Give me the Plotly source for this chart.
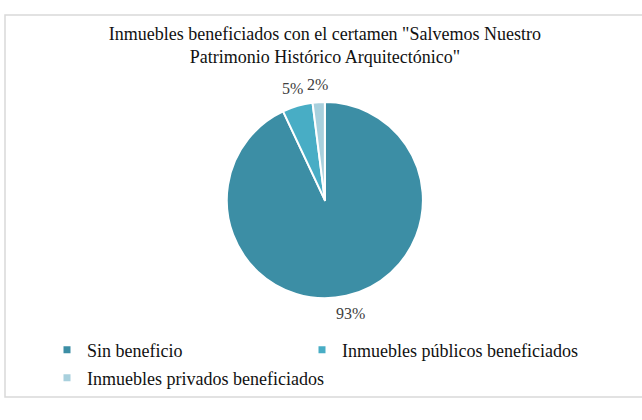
import math
import plotly.graph_objects as go

labels = ["Sin beneficio", "Inmuebles públicos beneficiados", "Inmuebles privados beneficiados"]
values = [93, 5, 2]
colors = ["#3C8EA5", "#48ADC5", "#A8D0DD"]
title_text = 'Inmuebles beneficiados con el certamen "Salvemos Nuestro<br>Patrimonio Histórico Arquitectónico"'

serif = "Times New Roman, Liberation Serif, serif"
W, H = 642, 420
dom_x = [0.2, 0.812]
dom_y = [0.29, 0.757]

fig = go.Figure()
fig.add_trace(go.Pie(
    labels=labels, values=values, sort=False, direction="clockwise", rotation=0,
    marker=dict(colors=colors, line=dict(color="white", width=2)),
    textinfo="none", hoverinfo="label+percent",
    domain=dict(x=dom_x, y=dom_y),
    showlegend=False,
))

# legend entries (one legend per entry so they can sit in a 2-column grid)
legend_names = ["legend", "legend2", "legend3"]
legend_pos = [(47, 350), (302, 350), (47, 378)]
for lab, col, lg in zip(labels, colors, legend_names):
    fig.add_trace(go.Scatter(
        x=[None], y=[None], mode="markers", name=lab, legend=lg,
        marker=dict(symbol="square", size=7, color=col), showlegend=True,
    ))

legend_layout = {}
for lg, (lx, ly) in zip(legend_names, legend_pos):
    legend_layout[lg] = dict(x=lx / W, y=1 - ly / H, xanchor="left", yanchor="middle",
                             bgcolor="rgba(0,0,0,0)",
                             font=dict(family=serif, size=18, color="#111111"))

# percentage labels placed outside each slice at its mid-angle
total = sum(values)
cx = (dom_x[0] + dom_x[1]) / 2 * W
cy = (dom_y[0] + dom_y[1]) / 2 * H
R = (dom_y[1] - dom_y[0]) * H / 2
annotations = []
cum = 0
for v in values:
    mid = (cum + v / 2) / total * 2 * math.pi
    cum += v
    d = R + 18
    px = cx + d * math.sin(mid)
    py = cy + d * math.cos(mid)
    annotations.append(dict(text=f"{round(v / total * 100)}%", x=px / W, y=py / H,
                            xref="paper", yref="paper", showarrow=False,
                            xanchor="center", yanchor="middle",
                            font=dict(family=serif, size=16, color="#404040")))

fig.update_layout(
    width=W, height=H,
    margin=dict(l=0, r=0, t=0, b=0),
    paper_bgcolor="white", plot_bgcolor="white",
    xaxis=dict(visible=False), yaxis=dict(visible=False),
    title=dict(text=title_text, x=0.506, xanchor="center", y=0.905, yanchor="top",
               font=dict(family=serif, size=18, color="#111111")),
    annotations=annotations,
    shapes=[dict(type="rect", xref="paper", yref="paper", x0=5/W, x1=1.05,
                 y0=1-397/H, y1=1-15/H, line=dict(color="#D9D9D9", width=1.5))],
    **legend_layout,
)

fig.write_html("out.html")
